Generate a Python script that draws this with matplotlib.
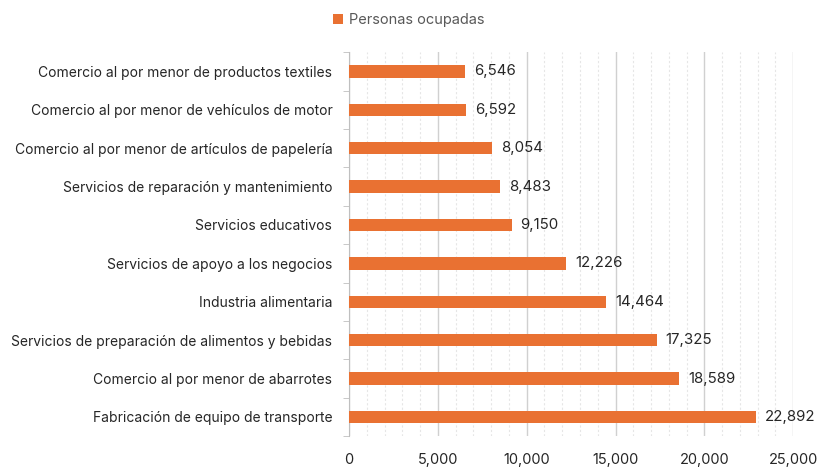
import matplotlib
matplotlib.use("Agg")
import matplotlib.pyplot as plt
from matplotlib.ticker import MultipleLocator, FuncFormatter

categorias = [
    "Fabricación de equipo de transporte",
    "Comercio al por menor de abarrotes",
    "Servicios de preparación de alimentos y bebidas",
    "Industria alimentaria",
    "Servicios de apoyo a los negocios",
    "Servicios educativos",
    "Servicios de reparación y mantenimiento",
    "Comercio al por menor de artículos de papelería",
    "Comercio al por menor de vehículos de motor",
    "Comercio al por menor de productos textiles",
]
personas = [22892, 18589, 17325, 14464, 12226, 9150, 8483, 8054, 6592, 6546]

plt.rcParams["font.family"] = ["Inter", "DejaVu Sans"]
naranja = "#E97132"
texto = "#262626"

fig = plt.figure(figsize=(8.18, 4.70), dpi=100)
ax = fig.add_axes([0.4267, 0.072, 0.543, 0.817])

y = range(len(categorias))
ax.barh(y, personas, height=0.32, color=naranja, label="Personas ocupadas", zorder=3)
for yi, v in zip(y, personas):
    ax.text(v + 500, yi, f"{v:,}", va="center", ha="left", fontsize=10.8, color=texto)

ax.set_xlim(0, 25000)
ax.set_ylim(-0.5, len(categorias) - 0.5)
ax.set_yticks(list(y))
ax.set_yticklabels(categorias, fontsize=10, color=texto)
ax.set_yticks([i - 0.5 for i in range(len(categorias) + 1)], minor=True)
ax.tick_params(axis="y", which="major", length=0, pad=12)
ax.tick_params(axis="y", which="minor", length=4, color="#bfbfbf", direction="out")
ax.xaxis.set_major_locator(MultipleLocator(5000))
ax.xaxis.set_minor_locator(MultipleLocator(1000))
ax.xaxis.set_major_formatter(FuncFormatter(lambda v, p: f"{int(v):,}"))
ax.tick_params(axis="x", which="both", length=0, pad=12, labelsize=10.5, labelcolor=texto)
ax.grid(axis="x", which="major", color="#d0d0d0", lw=1, zorder=0)
ax.grid(axis="x", which="minor", color="#e6e6e6", lw=0.8, ls=(0, (2, 2)), zorder=0)
for s in ["top", "right", "bottom"]:
    ax.spines[s].set_visible(False)
ax.spines["left"].set_color("#bfbfbf")

leg = fig.legend(loc="upper center", bbox_to_anchor=(0.5, 1.0), frameon=False, fontsize=10.5,
                 handlelength=0.7, handleheight=0.7, handletextpad=0.4)
for t in leg.get_texts():
    t.set_color("#595959")

fig.savefig("out.png", dpi=100)
